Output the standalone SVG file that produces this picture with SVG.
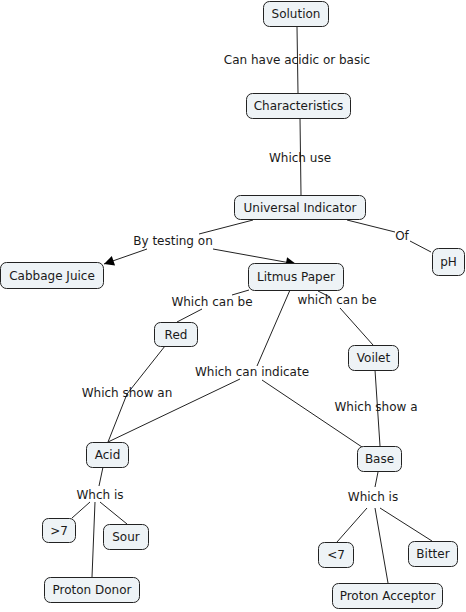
<svg xmlns="http://www.w3.org/2000/svg" width="466" height="612" viewBox="0 0 466 612">
<style>
.n rect{fill:#eef3f6;stroke:#222;stroke-width:1}
text{font-family:"DejaVu Sans","Verdana",sans-serif;font-size:12px;fill:#1a1a1a;text-anchor:middle;dominant-baseline:central}
.c line,.c polyline{stroke:#222;stroke-width:1;fill:none}
</style>
<defs>
<marker id="ah" viewBox="0 0 10 10" refX="10" refY="5" markerWidth="14" markerHeight="10" markerUnits="userSpaceOnUse" orient="auto">
<path d="M0,0 L10,5 L0,10 z" fill="#000"/>
</marker>
</defs>
<rect width="466" height="612" fill="#fff"/>
<g class="c" id="connectors">
<line x1="297" y1="27" x2="298" y2="93"/>
<line x1="300" y1="118" x2="301" y2="195"/>
<line x1="253" y1="220" x2="199" y2="234"/>
<line x1="147" y1="249" x2="104" y2="264" marker-end="url(#ah)"/>
<line x1="213" y1="249" x2="296" y2="264" marker-end="url(#ah)"/>
<line x1="347" y1="220" x2="395" y2="232"/>
<line x1="410" y1="241" x2="431" y2="252"/>
<line x1="249" y1="290" x2="232" y2="295"/>
<line x1="202" y1="309" x2="177" y2="322"/>
<line x1="318" y1="291" x2="330" y2="297"/>
<line x1="340" y1="308" x2="373" y2="345"/>
<line x1="290" y1="290" x2="257" y2="366"/>
<line x1="240" y1="379" x2="108" y2="442"/>
<line x1="262" y1="380" x2="362" y2="447"/>
<polyline points="165,346 127,394 108,442"/>
<line x1="375" y1="370" x2="380" y2="446"/>
<line x1="103" y1="467" x2="99" y2="486"/>
<line x1="90" y1="502" x2="72" y2="518"/>
<line x1="95" y1="502" x2="92" y2="577"/>
<line x1="100" y1="502" x2="127" y2="524"/>
<line x1="378" y1="472" x2="375" y2="487"/>
<line x1="367" y1="508" x2="337" y2="542"/>
<line x1="375" y1="508" x2="388" y2="583"/>
<line x1="380" y1="508" x2="432" y2="541"/>
</g>
<g id="labels">
<text x="297" y="60">Can have acidic or basic</text>
<text x="300" y="158">Which use</text>
<text x="173" y="241">By testing on</text>
<text x="402" y="236">Of</text>
<text x="212" y="302">Which can be</text>
<text x="337" y="300">which can be</text>
<text x="252" y="372">Which can indicate</text>
<text x="127" y="393">Which show an</text>
<text x="376" y="407">Which show a</text>
<text x="100" y="495">Whch is</text>
<text x="373" y="497">Which is</text>
</g>
<g class="n" id="solution"><rect x="263.5" y="1.5" width="65" height="25" rx="6"/><text x="296" y="14">Solution</text></g>
<g class="n" id="characteristics"><rect x="246.5" y="93.5" width="104" height="25" rx="6"/><text x="298.5" y="106">Characteristics</text></g>
<g class="n" id="universal-indicator"><rect x="234.5" y="195.5" width="131" height="24" rx="6"/><text x="300" y="207.5">Universal Indicator</text></g>
<g class="n" id="ph"><rect x="432.5" y="248.5" width="32" height="27" rx="6"/><text x="448.5" y="262">pH</text></g>
<g class="n" id="cabbage-juice"><rect x="0.5" y="262.5" width="103" height="26" rx="6"/><text x="52" y="275.5">Cabbage Juice</text></g>
<g class="n" id="litmus-paper"><rect x="248.5" y="263.5" width="95" height="27" rx="6"/><text x="296" y="277">Litmus Paper</text></g>
<g class="n" id="red"><rect x="154.5" y="322.5" width="43" height="24" rx="6"/><text x="176" y="334.5">Red</text></g>
<g class="n" id="voilet"><rect x="348.5" y="345.5" width="50" height="25" rx="6"/><text x="373.5" y="358">Voilet</text></g>
<g class="n" id="acid"><rect x="86.5" y="442.5" width="42" height="25" rx="6"/><text x="107.5" y="455">Acid</text></g>
<g class="n" id="base"><rect x="357.5" y="446.5" width="44" height="25" rx="6"/><text x="379.5" y="459">Base</text></g>
<g class="n" id="gt7"><rect x="42.5" y="518.5" width="33" height="24" rx="6"/><text x="59" y="530.5">&gt;7</text></g>
<g class="n" id="sour"><rect x="103.5" y="524.5" width="45" height="25" rx="6"/><text x="126" y="537">Sour</text></g>
<g class="n" id="proton-donor"><rect x="44.5" y="577.5" width="95" height="25" rx="6"/><text x="92" y="590">Proton Donor</text></g>
<g class="n" id="lt7"><rect x="318.5" y="542.5" width="35" height="25" rx="6"/><text x="336" y="555">&lt;7</text></g>
<g class="n" id="bitter"><rect x="408.5" y="541.5" width="49" height="25" rx="6"/><text x="433" y="554">Bitter</text></g>
<g class="n" id="proton-acceptor"><rect x="332.5" y="583.5" width="110" height="25" rx="6"/><text x="387.5" y="596">Proton Acceptor</text></g>
</svg>
